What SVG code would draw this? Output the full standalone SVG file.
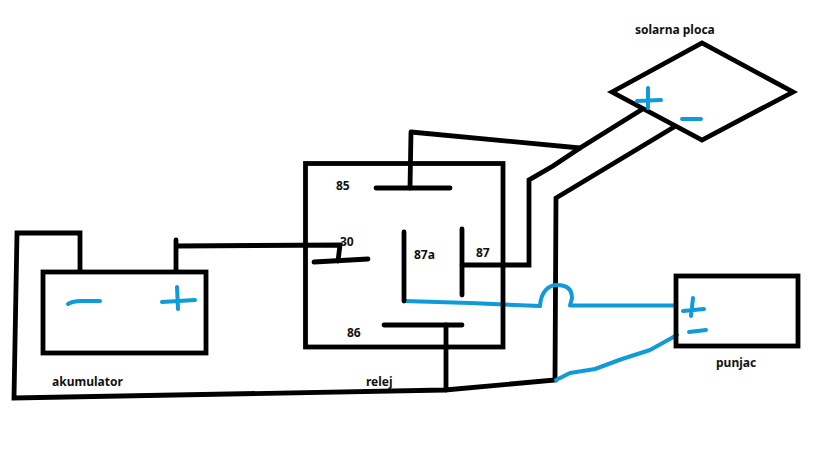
<svg xmlns="http://www.w3.org/2000/svg" width="819" height="460" viewBox="0 0 819 460">
<style>
.k{fill:none;stroke:#000;stroke-width:4.8;stroke-linecap:round;stroke-linejoin:miter}
.b{fill:none;stroke:#0f9bd7;stroke-width:4;stroke-linecap:round;stroke-linejoin:round}
text{font-family:"Noto Sans","Open Sans","DejaVu Sans",sans-serif;font-size:12px;font-weight:700;fill:#111}
</style>
<rect width="819" height="460" fill="#fff"/>
<g id="connectors">
<path class="k" d="M411 132L410 188M411 132L580 148"/>
<path class="k" d="M641 110L580 148L553 166L529 180L529 265L462 265"/>
<path class="k" d="M674 127L556 198L555 380L445 390L14 398L17 233L80 233L80 270"/>
<path class="k" d="M176 240L176 270M176 246L340 245L338 261"/>
<path class="k" d="M446 325L446 390"/>
<path class="b" d="M404 301L470 303L540 306C541 291 549 285 557 285C568 285 572 290 572 298L570 305.500L676 305.500"/>
<path class="b" d="M556 380L570 373L595 369L622 359L650 350L677 335"/>
</g>
<g id="relej">
<rect class="k" x="305.500" y="163.500" width="197.500" height="183.500"/>
<path class="k" d="M376 188L450 188M314 262L368 259M404 232L404 301M462 229L462 295M384 325L462 325"/>
<text x="336" y="190">85</text>
<text x="340" y="246">30</text>
<text x="414" y="259">87a</text>
<text x="476" y="257">87</text>
<text x="347" y="337">86</text>
<text x="366" y="386">relej</text>
</g>
<g id="akumulator">
<rect class="k" x="43" y="272" width="163" height="81"/>
<path class="b" d="M68 304Q73 301 81 301L100 301M162 302L195 300M177 287L178 309"/>
<text x="52" y="386">akumulator</text>
</g>
<g id="solarna-ploca">
<path class="k" d="M612 92L702 43L793 92L702 140Z"/>
<path class="b" d="M637 101L661 100M648 88L648 108M682 119L701 119"/>
<text x="635" y="34">solarna ploca</text>
</g>
<g id="punjac">
<rect class="k" x="676" y="276" width="122" height="70"/>
<path class="b" d="M683 311L704 309M693 298L691 316M689 332L706 330"/>
<text x="716" y="367">punjac</text>
</g>
</svg>
